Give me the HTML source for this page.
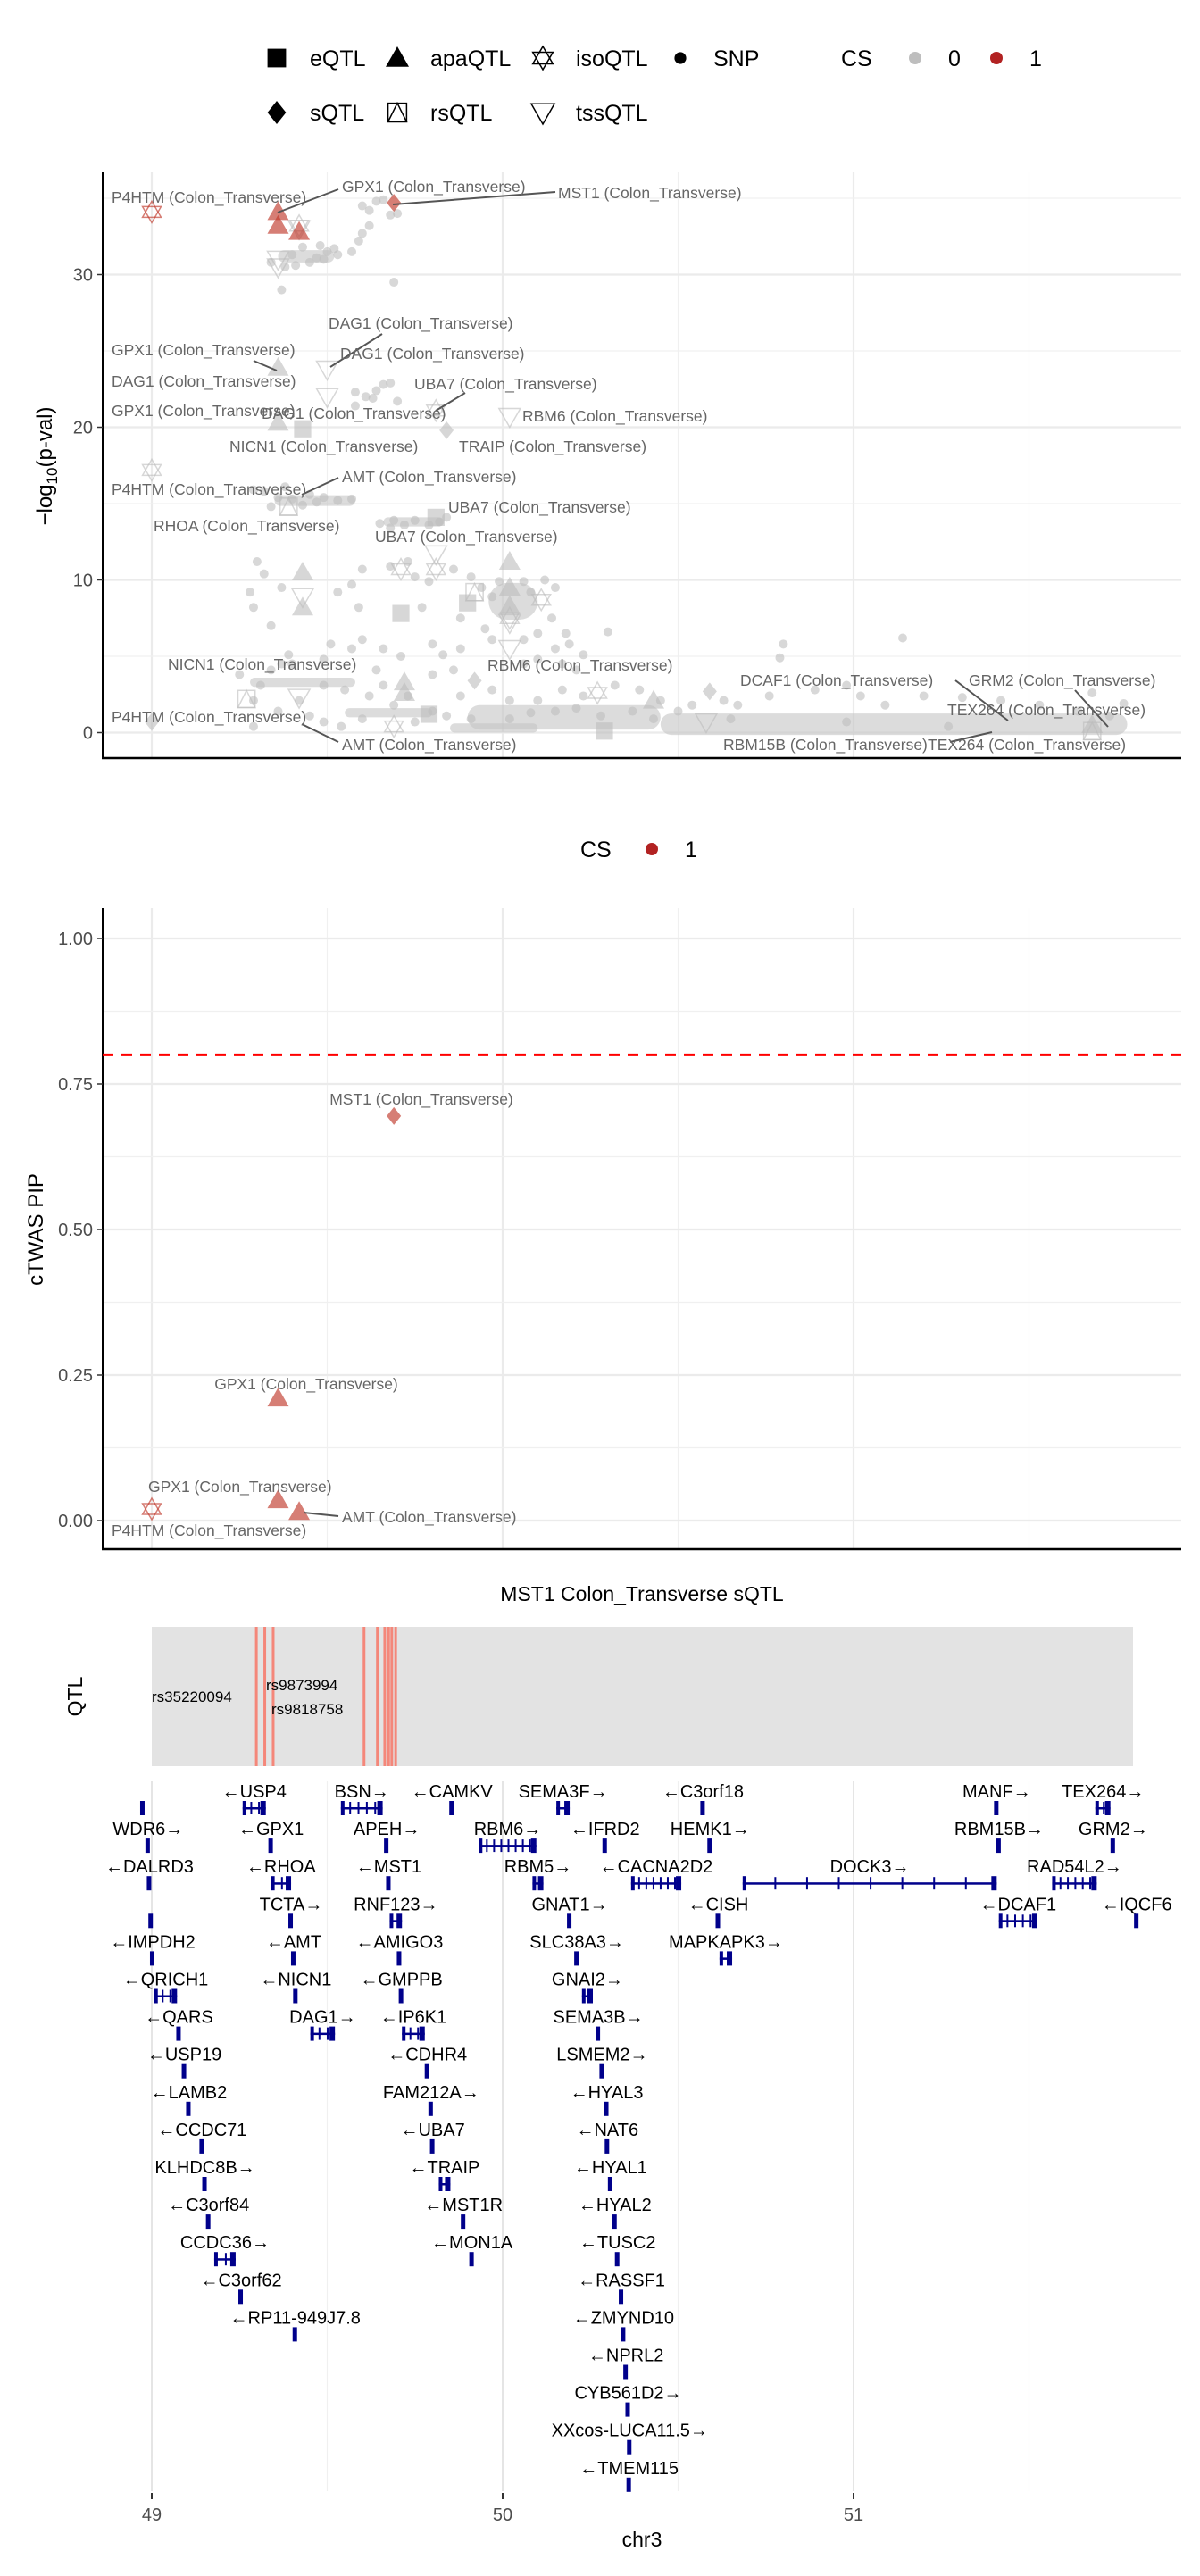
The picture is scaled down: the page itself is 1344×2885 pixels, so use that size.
<!DOCTYPE html>
<html><head><meta charset="utf-8"><style>
html,body{margin:0;padding:0;background:#fff;}
svg text{font-family:"Liberation Sans","DejaVu Sans",sans-serif;}
</style></head><body>
<svg id="root" width="1344" height="2880" xmlns="http://www.w3.org/2000/svg">
<g id="legend1"></g>
<g id="p1"></g>
<g id="legend2"></g>
<g id="p2"></g>
<g id="p3"></g>
<g id="p4"></g>
</svg>
<script>
// ---------- data ----------
const snpMb = [49.60,49.64,49.66,49.68,49.62,49.60,49.59,49.57,49.53,49.50,49.47,49.45,49.41,49.38,49.40,49.43,49.49,49.37,49.69,49.48,49.52,49.34,49.70,49.62,
49.66,49.58,49.61,49.63,49.58,49.70,49.68,49.64,
49.29,49.32,49.36,49.40,49.45,49.49,49.53,49.57,49.34,49.43,49.47,49.38,
49.65,49.69,49.72,49.75,49.79,49.82,49.84,49.68,
49.30,49.32,49.29,49.28,49.34,49.37,49.53,49.57,49.60,49.68,49.73,49.75,49.77,49.79,49.86,49.91,49.94,49.97,49.99,50.06,50.08,50.12,50.15,49.88,49.95,49.97,50.10,50.14,50.18,50.19,50.23,50.15,50.17,50.21,50.30,50.06,49.59,49.60,49.57,49.66,49.71,49.64,49.51,49.49,49.39,49.40,49.80,49.86,50.06,50.10,49.88,49.97,50.02,50.10,50.17,50.23,50.32,50.39,50.45,50.50,50.54,50.63,50.67,50.76,50.80,50.79,51.14,50.89,50.98,51.02,51.09,51.20,51.31,51.42,51.53,51.64,51.73,51.77,51.68,49.31,49.29,49.36,49.45,49.49,49.54,49.60,49.62,49.66,49.73,49.80,49.84,49.91,49.29,49.34,49.37,49.25,49.80,49.83,49.88,50.37,50.43,50.28,50.21,50.15,50.02,50.08,49.75,49.69,49.42,49.49,49.55,51.27,50.98,50.65];
const snpLogP = [34.5,34.8,34.9,33.9,33.2,32.7,32.2,31.5,31.3,31.5,31.1,30.8,30.6,30.5,31.3,31.8,31.0,29.0,29.5,31.9,31.7,30.8,34.0,34.2,
22.8,22.3,22.0,21.9,21.4,21.7,22.9,22.4,
15.9,15.8,15.4,15.3,15.6,15.4,15.2,15.3,14.8,14.9,15.1,16.1,
13.7,13.9,13.6,13.9,13.6,13.8,14.1,13.4,
11.2,10.4,8.2,9.2,7.0,9.5,9.2,9.7,10.7,10.9,11.2,10.2,8.2,9.9,10.7,10.2,9.5,8.9,9.9,9.9,9.2,10.0,9.5,7.5,6.8,6.1,6.5,7.5,6.5,5.8,5.1,5.5,4.5,4.1,6.6,6.1,8.2,6.1,5.5,5.5,5.0,4.1,5.8,4.8,5.1,4.5,3.8,4.1,4.5,4.8,2.4,2.8,2.1,2.1,2.8,2.4,3.1,2.8,2.1,1.4,1.8,2.1,1.8,2.4,5.8,4.9,6.2,2.8,3.1,2.4,1.8,2.4,2.3,2.1,1.8,1.4,1.1,1.9,2.6,3.1,2.1,1.4,1.1,0.7,0.4,0.9,2.4,3.1,2.4,1.4,1.1,0.9,0.4,4.1,4.5,3.8,5.8,5.1,5.5,1.4,0.9,1.1,1.6,1.4,0.9,1.3,0.7,1.8,2.1,3.1,2.8,0.4,0.7,0.9];
// dense SNP bands: start Mb, end Mb, centre -log10p, half-thickness
const bandStart = [50.45,49.90,49.85,49.55,49.28,49.35,49.66,49.36,49.96];
const bandEnd   = [51.78,50.45,50.10,49.80,49.58,49.58,49.83,49.52,50.10];
const bandMid   = [0.55,1.0,0.3,1.3,3.3,15.2,13.8,31.2,8.6];
const bandHalf  = [0.7,0.8,0.3,0.3,0.3,0.35,0.3,0.4,1.2];

const qtlType = ['iso','apa','apa','apa','iso','tss','tss','tss','s','apa','tss','tss','apa','e','iso','s','tss','iso','rs','e','tss','iso','iso','apa','apa','tss','apa','rs','e','apa','apa','iso','tss','e','tss','iso','rs','tss','apa','apa','s','iso','s','apa','s','e','rs','tss','iso','apa','e'];
const qtlMb   = [49.00,49.36,49.36,49.42,49.42,49.42,49.36,49.36,49.69,49.36,49.50,49.50,49.36,49.43,49.81,49.84,50.02,49.00,49.39,49.81,49.81,49.81,49.71,49.43,50.02,49.43,49.43,49.92,49.90,50.02,50.02,50.11,50.02,49.71,50.02,50.02,49.27,49.42,49.72,49.72,49.92,50.27,50.59,50.43,49.00,50.29,51.68,50.58,49.69,51.68,49.79];
const qtlLogP = [34.1,34.1,33.2,32.8,33.2,33.0,31.0,30.5,34.7,23.9,23.8,22.0,20.3,19.9,21.1,19.8,20.7,17.2,14.8,14.1,11.7,10.7,10.7,10.5,11.2,8.9,8.2,9.2,8.5,9.5,8.3,8.7,7.2,7.8,5.5,7.5,2.2,2.3,3.3,2.6,3.4,2.6,2.7,2.1,0.7,0.1,0.1,0.7,0.4,0.5,1.2];
const qtlCS   = [1,1,1,1,0,0,0,0,1,0,0,0,0,0,0,0,0,0,0,0,0,0,0,0,0,0,0,0,0,0,0,0,0,0,0,0,0,0,0,0,0,0,0,0,0,0,0,0,0,0,0];

const lblText = ['P4HTM','GPX1','MST1','DAG1','GPX1','DAG1','DAG1','UBA7','GPX1','DAG1','RBM6','NICN1','TRAIP','AMT','P4HTM','UBA7','RHOA','UBA7','NICN1','RBM6','DCAF1','GRM2','TEX264','P4HTM','AMT','RBM15B','TEX264'];
const lblX = [125,383,625,368,125,381,125,464,125,293,585,257,514,383,125,502,172,420,188,546,829,1085,1061,125,383,810,1039];
const lblY = [221,209,216,362,392,396,427,430,460,463,466,500,500,534,548,568,589,601,744,745,762,762,795,803,834,834,834];
const segs = [[311,238,379,212],[440,229,622,215],[370,411,428,374],[284,404,310,415],[488,460,521,440],[338,554,379,535],[1070,762,1129,807],[1204,773,1241,814],[338,811,379,831],[1064,831,1111,820]];

const pipType = ['iso','apa','apa','apa','s'];
const pipMb   = [49.00,49.36,49.36,49.42,49.69];
const pipVal  = [0.02,0.21,0.035,0.015,0.695];
const pipTicks = [0,0.25,0.5,0.75,1.0];
const pipTickLbl = ['0.00','0.25','0.50','0.75','1.00'];
const logTicks = [0,10,20,30];

const qtlLineMb = [49.298,49.322,49.346,49.605,49.643,49.664,49.675,49.684,49.695];

const geneName = ['','USP4','BSN','CAMKV','SEMA3F','C3orf18','MANF','TEX264',
'WDR6','GPX1','APEH','RBM6','IFRD2','HEMK1','RBM15B','GRM2',
'DALRD3','RHOA','MST1','RBM5','CACNA2D2','DOCK3','RAD54L2',
'','TCTA','RNF123','GNAT1','CISH','DCAF1','IQCF6',
'IMPDH2','AMT','AMIGO3','SLC38A3','MAPKAPK3',
'QRICH1','NICN1','GMPPB','GNAI2',
'QARS','DAG1','IP6K1','SEMA3B',
'USP19','CDHR4','LSMEM2',
'LAMB2','FAM212A','HYAL3',
'CCDC71','UBA7','NAT6',
'KLHDC8B','TRAIP','HYAL1',
'C3orf84','MST1R','HYAL2',
'CCDC36','MON1A','TUSC2',
'C3orf62','RASSF1',
'RP11-949J7.8','ZMYND10','NPRL2','CYB561D2','XXcos-LUCA11.5','TMEM115'];
const geneRow = [0,0,0,0,0,0,0,0, 1,1,1,1,1,1,1,1, 2,2,2,2,2,2,2, 3,3,3,3,3,3,3, 4,4,4,4,4, 5,5,5,5, 6,6,6,6, 7,7,7, 8,8,8, 9,9,9, 10,10,10, 11,11,11, 12,12,12, 13,13, 14,14,15,16,17,18];
const geneStart = [48.972,49.259,49.539,49.854,50.153,50.569,51.407,51.689, 48.988,49.339,49.668,49.932,50.291,50.588,51.413,51.738, 48.992,49.340,49.674,50.085,50.366,50.684,51.566, 48.997,49.396,49.678,50.190,50.613,51.414,51.806, 49.001,49.403,49.705,50.210,50.618, 49.007,49.409,49.710,50.226, 49.076,49.452,49.713,50.271, 49.091,49.784,50.282, 49.104,49.795,50.295, 49.142,49.799,50.297, 49.150,49.818,50.306, 49.161,49.887,50.319, 49.178,49.911,50.326, 49.253,50.337, 49.407,50.343,50.350,50.356,50.361,50.359];
const geneEnd = [48.977,49.325,49.658,49.857,50.191,50.573,51.409,51.732, 48.991,49.341,49.671,50.096,50.293,50.594,51.416,51.742, 48.995,49.397,49.677,50.116,50.509,51.408,51.693, 48.999,49.398,49.713,50.192,50.616,51.524,51.808, 49.004,49.406,49.707,50.213,50.654, 49.072,49.412,49.713,50.257, 49.079,49.522,49.778,50.274, 49.095,49.787,50.285, 49.107,49.797,50.298, 49.145,49.802,50.300, 49.153,49.851,50.309, 49.163,49.890,50.321, 49.239,49.914,50.329, 49.256,50.340, 49.411,50.346,50.353,50.359,50.363,50.362];
const geneStrand = ['-','-','+','-','+','-','+','+', '+','-','+','+','-','+','+','+', '-','-','-','+','-','+','+', '-','+','+','+','-','-','-', '-','-','-','+','+', '-','-','-','+', '-','+','-','+', '-','-','+', '-','+','-', '-','-','-', '+','-','-', '-','-','-', '+','-','-', '-','-', '-','-','-','+','+','-'];
const xTicks = [49,50,51];

// ---------- scales ----------
const NS='http://www.w3.org/2000/svg';
const xS = mb => 170 + 393*(mb-49);
const y1 = v => 820.5 - 17.1*v;
const y2 = v => 1703 - 652*v;
function mk(parent, tag, attrs, txt){const e=document.createElementNS(NS,tag);for(const k in attrs)e.setAttribute(k,attrs[k]);if(txt!==undefined)e.textContent=txt;parent.appendChild(e);return e;}
const G = id => document.getElementById(id);

function shape(parent, type, cx, cy, s, color, filled, op){
  let e;
  if(type==='e'){e=mk(parent,'rect',{x:cx-s*0.8,y:cy-s*0.8,width:s*1.6,height:s*1.6,fill:color,'fill-opacity':op});}
  else if(type==='s'){e=mk(parent,'polygon',{points:`${cx},${cy-s} ${cx+s*0.8},${cy} ${cx},${cy+s} ${cx-s*0.8},${cy}`,fill:color,'fill-opacity':op});}
  else if(type==='apa'){e=mk(parent,'polygon',{points:`${cx},${cy-s} ${cx+s},${cy+s*0.75} ${cx-s},${cy+s*0.75}`,fill:color,'fill-opacity':op});}
  else if(type==='tss'){e=mk(parent,'polygon',{points:`${cx-s},${cy-s*0.75} ${cx+s},${cy-s*0.75} ${cx},${cy+s}`,fill:'none',stroke:color,'stroke-width':1.5,'stroke-opacity':op});}
  else if(type==='iso'){e=mk(parent,'g',{});
    mk(e,'polygon',{points:`${cx},${cy-s} ${cx+s*0.87},${cy+s*0.5} ${cx-s*0.87},${cy+s*0.5}`,fill:'none',stroke:color,'stroke-width':1.5,'stroke-opacity':op});
    mk(e,'polygon',{points:`${cx},${cy+s} ${cx+s*0.87},${cy-s*0.5} ${cx-s*0.87},${cy-s*0.5}`,fill:'none',stroke:color,'stroke-width':1.5,'stroke-opacity':op});}
  else if(type==='rs'){e=mk(parent,'g',{});
    mk(e,'rect',{x:cx-s*0.8,y:cy-s*0.8,width:s*1.6,height:s*1.6,fill:'none',stroke:color,'stroke-width':1.5,'stroke-opacity':op});
    mk(e,'polygon',{points:`${cx},${cy-s*0.8} ${cx+s*0.8},${cy+s*0.8} ${cx-s*0.8},${cy+s*0.8}`,fill:'none',stroke:color,'stroke-width':1.5,'stroke-opacity':op});}
  else {e=mk(parent,'circle',{cx:cx,cy:cy,r:s*0.6,fill:color,'fill-opacity':op});}
  return e;
}

// ---------- legend 1 ----------
const L1=G('legend1');
const legItems=[['e','eQTL',310,65],['apa','apaQTL',445,65],['iso','isoQTL',608,65],['snp','SNP',762,65],['s','sQTL',310,126],['rs','rsQTL',445,126],['tss','tssQTL',608,126]];
legItems.forEach(it=>{
  const g=shape(L1,it[0],it[2],it[3],it[0]==='snp'?11:13,'#000',true,1);
  
  
  const t=mk(L1,'text',{x:it[2]+37,y:it[3]+9,'font-size':25,fill:'#000'},it[1]);
  
  
});
mk(L1,'text',{x:942,y:74,'font-size':25,fill:'#000',},'CS');
mk(L1,'circle',{cx:1025,cy:65,r:7,fill:'#bebebe',});
mk(L1,'text',{x:1062,y:74,'font-size':25,fill:'#000',},'0');
mk(L1,'circle',{cx:1116,cy:65,r:7,fill:'#b22222',});
mk(L1,'text',{x:1153,y:74,'font-size':25,fill:'#000',},'1');

// ---------- panel 1 ----------
const P1=G('p1');
function grid(P, yTop, yBot, yMinor, yMajor){
  [49.5,50.5,51.5,48.86].forEach(m=>{ if(xS(m)>115) mk(P,'line',{x1:xS(m),x2:xS(m),y1:yTop,y2:yBot,stroke:'#f0f0f0','stroke-width':1.2});});
  [49,50,51].forEach(m=>mk(P,'line',{x1:xS(m),x2:xS(m),y1:yTop,y2:yBot,stroke:'#ebebeb','stroke-width':2.2}));
  yMinor.forEach(y=>mk(P,'line',{x1:115,x2:1323,y1:y,y2:y,stroke:'#f0f0f0','stroke-width':1.2}));
  yMajor.forEach(y=>mk(P,'line',{x1:115,x2:1323,y1:y,y2:y,stroke:'#ebebeb','stroke-width':2.2}));
  mk(P,'line',{x1:115,x2:115,y1:yTop,y2:yBot,stroke:'#000','stroke-width':2,});
  mk(P,'line',{x1:114,x2:1323,y1:yBot,y2:yBot,stroke:'#000','stroke-width':2.5,});
}
grid(P1,193,849,[5,15,25,35].map(y1),logTicks.map(y1));
logTicks.forEach(v=>{
  mk(P1,'line',{x1:109,x2:115,y1:y1(v),y2:y1(v),stroke:'#333','stroke-width':1.5});
  const t=mk(P1,'text',{x:104,y:y1(v)+7,'font-size':20,fill:'#4d4d4d','text-anchor':'end'},String(v));
  
  
});
const yt=mk(P1,'text',{transform:'translate(58,522) rotate(-90)','font-size':24,fill:'#000','text-anchor':'middle',});
yt.innerHTML='−log<tspan font-size="17" dy="6">10</tspan><tspan dy="-6">(p-val)</tspan>';
for(let i=0;i<bandStart.length;i++){
  const h=y1(bandMid[i]-bandHalf[i])-y1(bandMid[i]+bandHalf[i]);
  const r=mk(P1,'rect',{x:xS(bandStart[i]),y:y1(bandMid[i]+bandHalf[i]),width:xS(bandEnd[i])-xS(bandStart[i]),height:h,rx:h/2,fill:'#c4c4c4','fill-opacity':0.6});
  
  
}
for(let i=0;i<snpMb.length;i++){
  const c=mk(P1,'circle',{cx:xS(snpMb[i]),cy:y1(snpLogP[i]),r:5,fill:'#bebebe','fill-opacity':0.6});
  
  
}
const order=qtlCS.map((c,i)=>i).sort((a,b)=>qtlCS[a]-qtlCS[b]);
order.forEach(i=>{
  const red=qtlCS[i]===1;
  const e=shape(P1,qtlType[i],xS(qtlMb[i]),y1(qtlLogP[i]),qtlType[i]==='s'?10:12,red?'#c0392b':'#bdbdbd',true,red?0.65:0.6);
  
  
});
segs.forEach(s=>mk(P1,'line',{x1:s[0],y1:s[1],x2:s[2],y2:s[3],stroke:'#555','stroke-width':2}));
for(let i=0;i<lblText.length;i++){
  const t=mk(P1,'text',{x:lblX[i],y:lblY[i]+6,'font-size':17.5,fill:'#666'},lblText[i]+' (Colon_Transverse)');
  
  
}

// ---------- legend 2 ----------
const L2=G('legend2');
mk(L2,'text',{x:650,y:960,'font-size':25,fill:'#000',},'CS');
mk(L2,'circle',{cx:730,cy:951,r:7,fill:'#b22222',});
mk(L2,'text',{x:767,y:960,'font-size':25,fill:'#000',},'1');

// ---------- panel 2 ----------
const P2=G('p2');
grid(P2,1017,1735,[0.125,0.375,0.625,0.875].map(y2),pipTicks.map(y2));
mk(P2,'line',{x1:115,x2:1323,y1:y2(0.8),y2:y2(0.8),stroke:'#ff0000','stroke-width':3,'stroke-dasharray':'12,9',});
pipTicks.forEach((v,i)=>{
  mk(P2,'line',{x1:109,x2:115,y1:y2(v),y2:y2(v),stroke:'#333','stroke-width':1.5});
  const t=mk(P2,'text',{x:104,y:y2(v)+7,'font-size':20,fill:'#4d4d4d','text-anchor':'end'},pipTickLbl[i]);
  
  
});
mk(P2,'text',{transform:'translate(48,1377) rotate(-90)','font-size':24,fill:'#000','text-anchor':'middle',},'cTWAS PIP');
for(let i=0;i<pipMb.length;i++){
  const e=shape(P2,pipType[i],xS(pipMb[i]),y2(pipVal[i]),pipType[i]==='s'?10:12,'#c0392b',true,0.65);
  
  
}
mk(P2,'line',{x1:340,y1:1694,x2:379,y2:1698,stroke:'#555','stroke-width':2});
[['MST1',472,1231,'middle'],['GPX1',343,1550,'middle'],['GPX1',166,1665,'start'],['AMT',383,1699,'start'],['P4HTM',125,1714,'start']].forEach(l=>{
  const t=mk(P2,'text',{x:l[1],y:l[2]+6,'font-size':17.5,fill:'#666','text-anchor':l[3]},l[0]+' (Colon_Transverse)');
  
  
});

// ---------- QTL track ----------
const P3=G('p3');
mk(P3,'text',{x:719,y:1793,'font-size':23,fill:'#000','text-anchor':'middle',},'MST1 Colon_Transverse sQTL');
mk(P3,'rect',{x:170,y:1822,width:1099,height:156,fill:'#e3e3e3',});
mk(P3,'text',{transform:'translate(92,1900) rotate(-90)','font-size':23,fill:'#000','text-anchor':'middle',},'QTL');
qtlLineMb.forEach(m=>{
  const l=mk(P3,'line',{x1:xS(m),x2:xS(m),y1:1822,y2:1978,stroke:'#f4877a','stroke-width':3});
  
  
});
[['rs9873994',298,1893],['rs35220094',170,1906],['rs9818758',304,1920]].forEach(l=>{
  const t=mk(P3,'text',{x:l[1],y:l[2],'font-size':17,fill:'#000'},l[0]);
  
  
});

// ---------- gene track ----------
const P4=G('p4');
[49,49.5,50,50.5,51,51.5].forEach(m=>mk(P4,'line',{x1:xS(m),x2:xS(m),y1:1995,y2:2790,stroke:(m%1===0)?'#e5e5e5':'#f0f0f0','stroke-width':(m%1===0)?2:1.2}));
for(let i=0;i<geneName.length;i++){
  const ly=2005+42.1*geneRow[i], by=ly+20;
  const x0=xS(geneStart[i]), x1=xS(geneEnd[i]), w=x1-x0;
  const g=mk(P4,'g',{});
  
  
  if(w<9){ mk(g,'rect',{x:(x0+x1)/2-3,y:by-8,width:Math.max(w,5),height:16,fill:'#00008b'}); }
  else {
    mk(g,'rect',{x:x0,y:by-1,width:w,height:2.5,fill:'#00008b'});
    mk(g,'rect',{x:x0,y:by-8,width:4,height:16,fill:'#00008b'});
    mk(g,'rect',{x:x1-6,y:by-8,width:6,height:16,fill:'#00008b'});
    const n=Math.min(8,Math.floor(w/8));
    for(let k=1;k<n;k++){ mk(g,'rect',{x:x0+k*w/n,y:by-7,width:2,height:14,fill:'#00008b'}); }
  }
  if(geneName[i]){
    const lab=geneStrand[i]==='-'?'←'+geneName[i]:geneName[i]+'→';
    const t=mk(P4,'text',{x:(x0+x1)/2,y:ly+8,'font-size':20,fill:'#000','text-anchor':'middle'},lab);
    
    
  }
}
xTicks.forEach(m=>{
  mk(P4,'line',{x1:xS(m),x2:xS(m),y1:2792,y2:2799,stroke:'#333','stroke-width':2});
  const t=mk(P4,'text',{x:xS(m),y:2823,'font-size':20,fill:'#4d4d4d','text-anchor':'middle'},String(m));
  
  
});
mk(P4,'text',{x:719,y:2852,'font-size':23,fill:'#000','text-anchor':'middle',},'chr3');
</script>
</body></html>
